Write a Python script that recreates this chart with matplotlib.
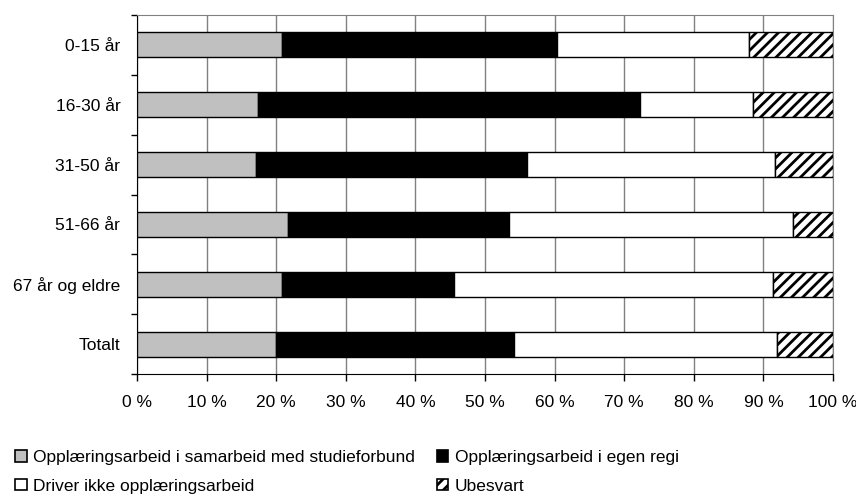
"""
Stablet 100 % søylediagram: opplæringsarbeid fordelt på aldersgrupper
"""

import matplotlib
matplotlib.use("Agg")
import matplotlib.pyplot as plt
from matplotlib.patches import Patch

plt.rcParams["font.family"] = ["Liberation Sans", "DejaVu Sans"]
plt.rcParams["hatch.linewidth"] = 2.0

# data lest av figuren (prosent)
kategorier = ["0-15 år", "16-30 år", "31-50 år", "51-66 år", "67 år og eldre", "Totalt"]
samarbeid = [20.8, 17.4, 17.1, 21.7, 20.8, 20.0]
egen_regi = [39.6, 54.9, 39.0, 31.8, 24.7, 34.1]
driver_ikke = [27.5, 16.2, 35.6, 40.7, 45.9, 37.9]
ubesvart = [12.1, 11.5, 8.3, 5.8, 8.6, 8.0]
serienavn = [
    "Opplæringsarbeid i samarbeid med studieforbund",
    "Opplæringsarbeid i egen regi",
    "Driver ikke opplæringsarbeid",
    "Ubesvart",
]
x_ticks = list(range(0, 101, 10))
x_labels = [f"{v} %" for v in x_ticks]

FS = 12.5

fig = plt.figure(figsize=(8.56, 4.94), dpi=100)
ax = fig.add_axes([137 / 856, 1 - 374 / 494, 696 / 856, 359 / 494])

y = list(range(len(kategorier)))
stil = [
    dict(color="#c0c0c0"),
    dict(color="black"),
    dict(color="white"),
    dict(color="white", hatch="///"),
]
venstre = [0] * len(kategorier)
for verdier, s in zip([samarbeid, egen_regi, driver_ikke, ubesvart], stil):
    ax.barh(y, verdier, left=venstre, height=0.42, edgecolor="black",
            linewidth=1.0, zorder=3, **s)
    venstre = [a + b for a, b in zip(venstre, verdier)]

ax.set_xlim(0, 100)
ax.set_ylim(len(kategorier) - 0.5, -0.5)

# rutenett og akser
ax.set_xticks(x_ticks)
ax.set_xticklabels(x_labels, fontsize=FS)
ax.xaxis.grid(True, color="#808080", linewidth=1.0, zorder=0)
ax.tick_params(axis="x", direction="out", length=5, width=1, pad=10)

ax.set_yticks(y)
ax.set_yticklabels(kategorier, fontsize=FS)
ax.tick_params(axis="y", which="major", length=0, pad=12)
ax.set_yticks([i - 0.5 for i in range(len(kategorier) + 1)], minor=True)
ax.tick_params(axis="y", which="minor", direction="out", length=4, width=1)

for side in ["top", "right"]:
    ax.spines[side].set_color("#808080")
for side in ["left", "bottom"]:
    ax.spines[side].set_color("black")

# forklaring (rekkefølge slik at to rader blir som i originalen)
handles = [Patch(facecolor=s["color"], edgecolor="black", hatch=s.get("hatch"), linewidth=1.2)
           for s in stil]
rekkefolge = [0, 2, 1, 3]
fig.legend([handles[i] for i in rekkefolge], [serienavn[i] for i in rekkefolge],
           ncol=2, loc="center left", bbox_to_anchor=(0.018, 0.045),
           frameon=False, fontsize=FS, handlelength=0.65, handleheight=0.65,
           handletextpad=0.35, columnspacing=1.3, labelspacing=0.8,
           borderpad=0, borderaxespad=0)

fig.savefig("out.png", dpi=100)
